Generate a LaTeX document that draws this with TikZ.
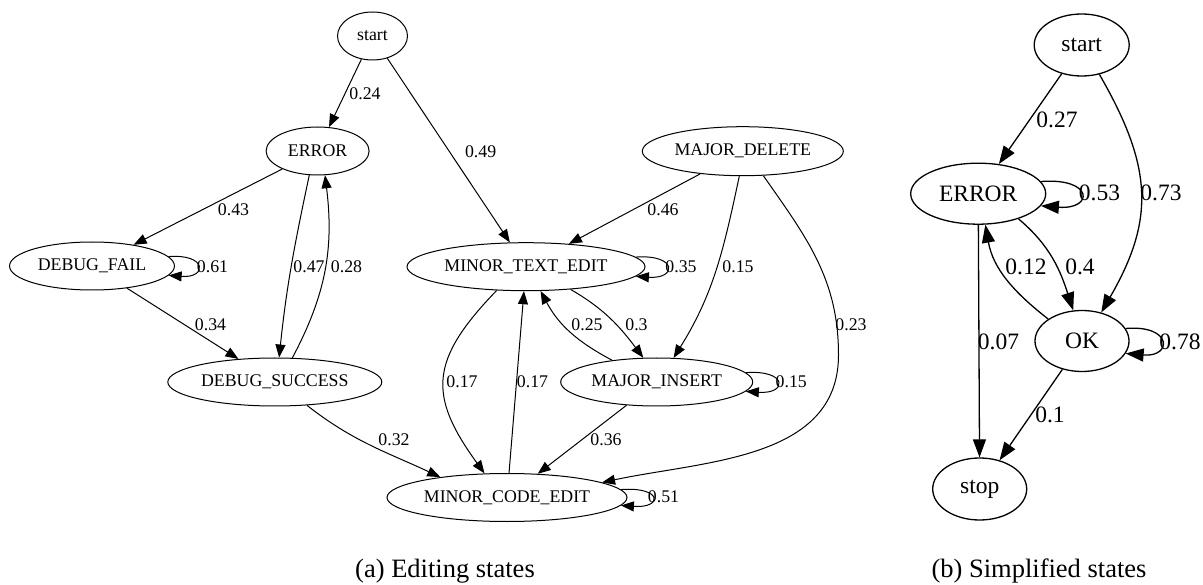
\documentclass[tikz,border=0pt]{standalone}
\usepackage{fontspec}
\setmainfont{Liberation Serif}
\usetikzlibrary{arrows.meta,shapes.geometric}
\begin{document}
\begin{tikzpicture}[x=1pt,y=-1pt,
  stL/.style={draw, ellipse, inner sep=0pt, line width=1pt, font=\fontsize{17.8}{20}\selectfont},
  stR/.style={draw, ellipse, inner sep=0pt, line width=1.3pt, font=\fontsize{23.5}{26}\selectfont},
  edg/.style={draw, line width=1pt, -{Triangle[length=13pt,width=10pt]}},
  edgR/.style={draw, line width=1.3pt, -{Triangle[length=18pt,width=13pt]}},
  lab/.style={inner sep=0pt, font=\fontsize{17.8}{20}\selectfont},
  labR/.style={inner sep=0pt, font=\fontsize{23.5}{26}\selectfont},
  captxt/.style={inner sep=0pt, font=\fontsize{26.5}{30}\selectfont}]
\useasboundingbox (0,0) rectangle (1203,585);

% ---------- (a) Editing states ----------
\node[stL, minimum width=70pt, minimum height=48pt] (s1) at (372.5,36) {start};
\node[stL, minimum width=103pt, minimum height=48pt] (er1) at (317.6,151) {ERROR};
\node[stL, minimum width=165pt, minimum height=48pt] (df) at (92,266) {DEBUG\_FAIL};
\node[stL, minimum width=238pt, minimum height=48pt] (mte) at (526,266.7) {MINOR\_TEXT\_EDIT};
\node[stL, minimum width=201pt, minimum height=49pt] (md) at (742.8,151.2) {MAJOR\_DELETE};
\node[stL, minimum width=214pt, minimum height=48pt] (ds) at (274.8,382) {DEBUG\_SUCCESS};
\node[stL, minimum width=192pt, minimum height=48pt] (mi) at (656.7,382) {MAJOR\_INSERT};
\node[stL, minimum width=240pt, minimum height=48pt] (mce) at (507,497.5) {MINOR\_CODE\_EDIT};

\draw[edg] (s1) -- (er1) node[lab] at (365,94) {0.24};
\draw[edg] (s1) -- (mte) node[lab] at (480.6,151.7) {0.49};
\draw[edg] (er1) -- (df) node[lab] at (233.5,209.3) {0.43};
\draw[edg] (df.7) .. controls +(38.8,-3) and +(38.8,3) .. (df.-7) node[lab] at (212.5,266.7) {0.61};
\draw[edg] (df) -- (ds) node[lab] at (210.5,325) {0.34};
\draw[edg] (er1.-109) to[out=-102,in=84] (ds.80) node[lab] at (309,266.7) {0.47};
\draw[edg] (ds.54) to[out=62,in=-83] (er1.-73) node[lab] at (346.5,266.7) {0.28};
\draw[edg] (ds.-36) to[out=-38,in=155] (mce.163) node[lab] at (394,440) {0.32};
\draw[edg] (mte.-141.5) to[out=-134,in=126,looseness=1.35] (mce.133) node[lab] at (462,381.7) {0.17};
\draw[edg] (mce) -- (mte) node[lab] at (532.5,382) {0.17};
\draw[edg] (mte.-27) to[out=-30,in=127] (mi.119.5) node[lab] at (636.5,325) {0.3};
\draw[edg] (mi.154.8) to[out=152,in=-62] (mte.-59.7) node[lab] at (587,325) {0.25};
\draw[edg] (mte.5) .. controls +(41.5,-3) and +(41.5,3) .. (mte.-5) node[lab] at (681,266.7) {0.35};
\draw[edg] (md) -- (mte) node[lab] at (663,209.3) {0.46};
\draw[edg] (md.-98.8) to[out=-102,in=58] (mi.55) node[lab] at (738,266.7) {0.15};
\draw[edg] (md.-50.4) to[out=-55,in=90] (838.5,355) to[out=-90,in=12] (mce.9) node[lab] at (851,325) {0.23};
\draw[edg] (mi) -- (mce) node[lab] at (606,439.3) {0.36};
\draw[edg] (mi.6.1) .. controls +(42,-3) and +(42,3) .. (mi.-6.1) node[lab] at (791.3,382) {0.15};
\draw[edg] (mce.4.9) .. controls +(42,-3) and +(42,3) .. (mce.-4.9) node[lab] at (663.5,497) {0.51};

% ---------- (b) Simplified states ----------
\node[stR, minimum width=95pt, minimum height=62pt] (s2) at (1081.7,45) {start};
\node[stR, minimum width=135pt, minimum height=61pt] (er2) at (978.2,193.7) {ERROR};
\node[stR, minimum width=94pt, minimum height=61pt] (ok) at (1082,341) {OK};
\node[stR, minimum width=94pt, minimum height=62pt] (stop) at (979.7,489) {stop};

\draw[edgR] (s2) -- (er2) node[labR] at (1057,120) {0.27};
\draw[edgR] (s2.-59.4) to[out=-60,in=60,looseness=1.15] (ok.56) node[labR] at (1161,192.7) {0.73};
\draw[edgR] (er2.11) .. controls +(53,-4) and +(53,4) .. (er2.-11) node[labR] at (1099.5,192.7) {0.53};
\draw[edgR] (er2.-32.2) to[out=-40,in=108] (ok.106) node[labR] at (1080,266.7) {0.4};
\draw[edgR] (ok.147.3) to[out=142,in=-80] (er2.-77.4) node[labR] at (1026,266.7) {0.12};
\draw[edgR] (er2) -- (stop) node[labR] at (998.5,341.7) {0.07};
\draw[edgR] (ok) -- (stop) node[labR] at (1050,415) {0.1};
\draw[edgR] (ok.16.2) .. controls +(47,-4) and +(47,4) .. (ok.-16.2) node[labR] at (1180,341.7) {0.78};

% ---------- captions ----------
\node[captxt] (capa) at (445,571.5) {(a) Editing states};
\node[captxt] (capb) at (1039,571) {(b) Simplified states};
\end{tikzpicture}
\end{document}
